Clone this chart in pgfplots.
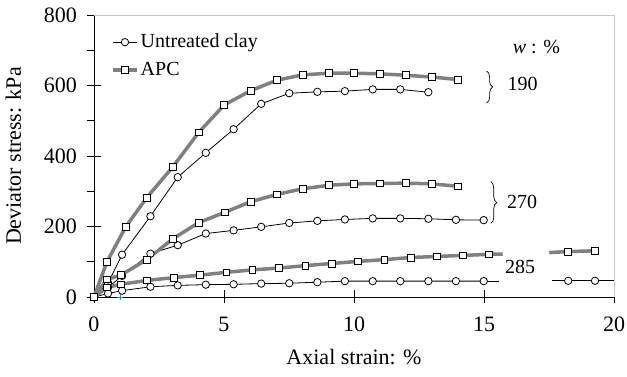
\documentclass[border=0pt]{standalone}
\usepackage{fontspec}
\setmainfont{Liberation Serif}
\usepackage{pgfplots}
\pgfplotsset{compat=1.18}
\usetikzlibrary{decorations.pathreplacing}
\definecolor{apcgray}{RGB}{128,128,128}
\definecolor{framegray}{RGB}{200,200,200}
\begin{document}
\begin{tikzpicture}
\path[use as bounding box] (-94pt,-80pt) rectangle (533pt,297pt);
\begin{axis}[
  at={(0pt,0pt)}, anchor=south west,
  width=520pt, height=282pt, scale only axis,
  xmin=0, xmax=20, ymin=0, ymax=800,
  axis lines=left,
  axis line style={-, black, line width=0.8pt},
  xtick={0,5,10,15,20},
  ytick={0,200,400,600,800},
  minor ytick={100,300,500,700},
  tick align=center,
  major tick length=13pt,
  minor tick length=7pt,
  minor y tick style={xshift=-3.5pt},
  tick style={black, line width=0.8pt},
  clip=false,
  /pgf/number format/assume math mode=true,
  tick label style={font=\fontsize{22}{26}\selectfont},
  yticklabel style={xshift=-7pt},
  xticklabel style={yshift=-10pt},
  label style={font=\fontsize{22}{26}\selectfont},
  xlabel={Axial strain: \%},
  xlabel style={yshift=-10pt},
  ylabel={Deviator stress: kPa},
  ylabel style={yshift=16pt},
  legend style={at={(rel axis cs:0,1)}, anchor=north west, xshift=17pt, yshift=-16pt,
    draw=none, fill=none, inner sep=0pt, row sep=6pt, column sep=0pt,
    font=\fontsize{20}{24}\selectfont,
    nodes={inner sep=2pt, text height=14pt, text depth=4pt}},
  legend cell align=left,
  legend image code/.code={
    \draw[#1] (0pt,0pt) -- (24pt,0pt);
    \draw[mark repeat=2, mark phase=2, #1] plot coordinates {(0pt,0pt) (12pt,0pt) (24pt,0pt)};
  },
  untr/.style={black, line width=0.8pt, mark=*, mark size=3.7pt,
    mark options={fill=white, draw=black, line width=0.8pt}},
  apc/.style={apcgray, line width=3.5pt, mark=square*, mark size=3.4pt,
    mark options={fill=white, draw=black, line width=0.8pt}},
]
% w = 190
\addplot[untr] coordinates {(0,0) (0.54,40) (1.08,120) (2.17,229) (3.22,340) (4.30,409) (5.37,476) (6.43,548) (7.51,578) (8.59,582) (9.65,584) (10.72,589) (11.78,589) (12.86,581)};
\addlegendentry{Untreated clay}
\addplot[apc] coordinates {(0,0) (0.5,100) (1.22,199) (2.03,282) (3.03,369) (4.03,467) (5.01,545) (6.02,585) (7.03,615) (8.02,630) (9.04,635) (10.01,635) (11.0,633) (12.0,629) (13.0,624) (14.0,617)};
\addlegendentry{APC}
% w = 270
\addplot[untr, forget plot] coordinates {(0,0) (0.54,27) (1.08,60) (2.17,123) (3.22,147) (4.30,180) (5.37,189) (6.43,199) (7.51,210) (8.59,216) (9.65,220) (10.72,223) (11.78,223) (12.86,222) (13.92,219) (14.99,218)};
\addplot[apc, forget plot] coordinates {(0,0) (0.5,50) (1.03,62) (2.03,106) (3.03,165) (4.03,211) (5.02,240) (6.02,270) (7.03,291) (8.02,307) (9.04,317) (10.01,321) (11.0,322) (12.0,323) (13.0,321) (14.0,314)};
% w = 285
\addplot[black, line width=0.8pt, forget plot] coordinates {(14.99,45) (15.58,45)};
\addplot[black, line width=0.8pt, forget plot] coordinates {(17.6,46) (20,46)};
\addplot[untr, forget plot] coordinates {(0,0) (0.54,10) (1.08,18) (2.17,29) (3.22,33) (4.30,35) (5.37,36) (6.43,38) (7.51,39) (8.59,42) (9.65,45) (10.72,45) (11.78,45) (12.86,45) (13.92,45) (14.99,45)};
\addplot[untr, forget plot] coordinates {(18.24,46) (19.27,46)};
\addplot[apcgray, line width=3.5pt, forget plot] coordinates {(15.2,121) (15.72,122)};
\addplot[apcgray, line width=3.5pt, forget plot] coordinates {(17.51,126) (18.24,129)};
\addplot[apc, forget plot] coordinates {(0,0) (0.5,27) (1.03,36) (2.05,47) (3.07,55) (4.08,62) (5.09,70) (6.09,77) (7.1,82) (8.13,89) (9.14,95) (10.15,101) (11.17,106) (12.18,112) (13.18,115) (14.19,118) (15.2,121)};
\addplot[apc, forget plot] coordinates {(18.24,129) (19.27,131)};
% stray cross
\addplot[only marks, mark=+, mark size=3pt, color={rgb,255:red,0;green,160;blue,160}, forget plot] coordinates {(1,0)};
% frame
\draw[framegray, line width=0.8pt] (rel axis cs:0,1) -- (rel axis cs:1,1) -- (rel axis cs:1,0);
% annotations
\node[anchor=west, font=\fontsize{20}{24}\selectfont, inner sep=0pt] at (axis cs:16.1,709) {\textit{w} : \%};
\draw[decorate, decoration={brace, amplitude=6pt}, line width=0.7pt] (axis cs:15.1,641) -- (axis cs:15.1,550);
\node[anchor=west, font=\fontsize{20}{24}\selectfont, inner sep=0pt] at (axis cs:15.9,604) {190};
\draw[decorate, decoration={brace, amplitude=6pt}, line width=0.7pt] (axis cs:15.26,327) -- (axis cs:15.26,209);
\node[anchor=west, font=\fontsize{20}{24}\selectfont, inner sep=0pt] at (axis cs:15.88,270) {270};
\node[anchor=west, font=\fontsize{20}{24}\selectfont, inner sep=0pt] at (axis cs:15.8,84) {285};
\end{axis}
\end{tikzpicture}
\end{document}
